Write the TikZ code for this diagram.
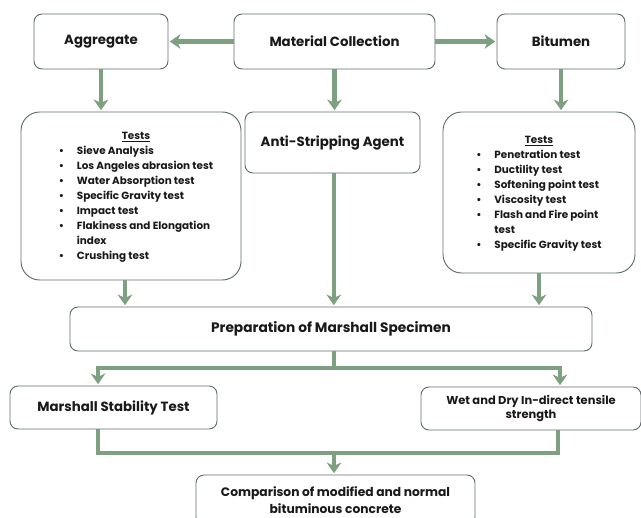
\documentclass[tikz,border=0pt]{standalone}
\usepackage{fontspec}
\setmainfont{Poppins}
\usetikzlibrary{positioning,arrows.meta}
\definecolor{flowgreen}{RGB}{125,160,128}
\definecolor{boxedge}{RGB}{95,108,112}
\newcommand{\tbul}{\makebox[13.5pt][l]{\textbullet}}
\tikzset{main box/.style={draw=boxedge,line width=0.7pt,rounded corners=6pt,fill=white,inner sep=0pt,align=center,text=black!90,font=\fontsize{10}{12}\selectfont\bfseries},
test box/.style={main box,rounded corners=14pt,font=\fontsize{7.8}{11.25}\selectfont\bfseries},
small box/.style={main box,font=\fontsize{8.6}{11}\selectfont\bfseries},
flow line/.style={draw=flowgreen,line width=3.5pt},
flow/.style={flow line,-{Stealth[length=8pt,width=11pt,inset=2.5pt]},shorten >=1pt},
}

\begin{document}
\begin{tikzpicture}[x=0.75pt,y=-0.75pt]
	\useasboundingbox (0,0) rectangle (641,517);
	\node[main box,minimum width=100.5pt,minimum height=41.25pt] (agg) at (101,41.5) {Aggregate};
	\node[main box,minimum width=150.75pt,minimum height=41.25pt] (mat) at (334.5,41.5) {Material Collection};
	\node[main box,minimum width=96pt,minimum height=41.25pt] (bit) at (561,41.5) {Bitumen};
	
	\node[test box,minimum width=165pt,minimum height=126pt] (aggtests) at (131,196) {\hspace*{7.5pt}%
		\begin{tabular}{@{}l@{}l@{}}
			\multicolumn{2}{c}{\underline{Tests}}\\
			\tbul & Sieve Analysis\\
			\tbul & Los Angeles abrasion test\\
			\tbul & Water Absorption test\\
			\tbul & Specific Gravity test\\
			\tbul & Impact test\\
			\tbul & Flakiness and Elongation\\
			      & index\\
			\tbul & Crushing test
		\end{tabular}};
	\node[main box,minimum width=131.25pt,minimum height=45.75pt] (anti) at (332.5,142.5) {Anti-Stripping Agent};
	\node[test box,minimum width=144pt,minimum height=120.75pt] (bittests) at (539,192.5) {%
		\begin{tabular}{@{}l@{}l@{}}
			\multicolumn{2}{c}{\underline{Tests}}\\
			\tbul & Penetration test\\
			\tbul & Ductility test\\
			\tbul & Softening point test\\
			\tbul & Viscosity test\\
			\tbul & Flash and Fire point\\
			      & test\\
			\tbul & Specific Gravity test
		\end{tabular}};
	
	\node[main box,font=\fontsize{10.3}{12}\selectfont\bfseries,minimum width=391.5pt,minimum height=33pt] (prep) at (331,329) {Preparation of Marshall Specimen};
	\node[main box,minimum width=155.25pt,minimum height=32.25pt] (mst) at (113.5,407.5) {Marshall Stability Test};
	\node[small box,minimum width=165pt,minimum height=32.25pt] (wdt) at (531,408.5) {Wet and Dry In-direct tensile\\strength};
	\node[main box,font=\fontsize{9.2}{13}\selectfont\bfseries,minimum width=209.25pt,minimum height=37.5pt] (comp) at (335.5,500) {Comparison of modified and normal\\bituminous concrete};
	
	\coordinate (split) at (334,368);
	\coordinate (merge) at (334,453);
	
	% top row
	\draw[flow] (mat.west) -- (agg.east);
	\draw[flow] (mat.east) -- (bit.west);
	\draw[flow] (agg.south) -- (agg.south |- aggtests.north);
	\draw[flow] (mat.south) -- (mat.south |- anti.north);
	\draw[flow] (bit.south) -- (bit.south |- bittests.north);
	
	% into preparation
	\draw[flow] ([xshift=-4.5pt]aggtests.south) -- ([xshift=-4.5pt]aggtests.south |- prep.north);
	\draw[flow] ([xshift=1pt]anti.south) -- ([xshift=1pt]anti.south |- prep.north);
	\draw[flow] (bittests.south) -- (bittests.south |- prep.north);
	
	% split and merge
	\draw[flow line] (split |- prep.south) -- (split);
	\draw[flow] (split) -| ([xshift=-11.6pt]mst.north);
	\draw[flow] (split) -| ([xshift=21.75pt]wdt.north);
	\draw[flow line] ([xshift=-11.6pt]mst.south) |- (merge) -| ([xshift=20.25pt]wdt.south);
	\draw[flow] (merge) -- (merge |- comp.north);
\end{tikzpicture}
\end{document}
